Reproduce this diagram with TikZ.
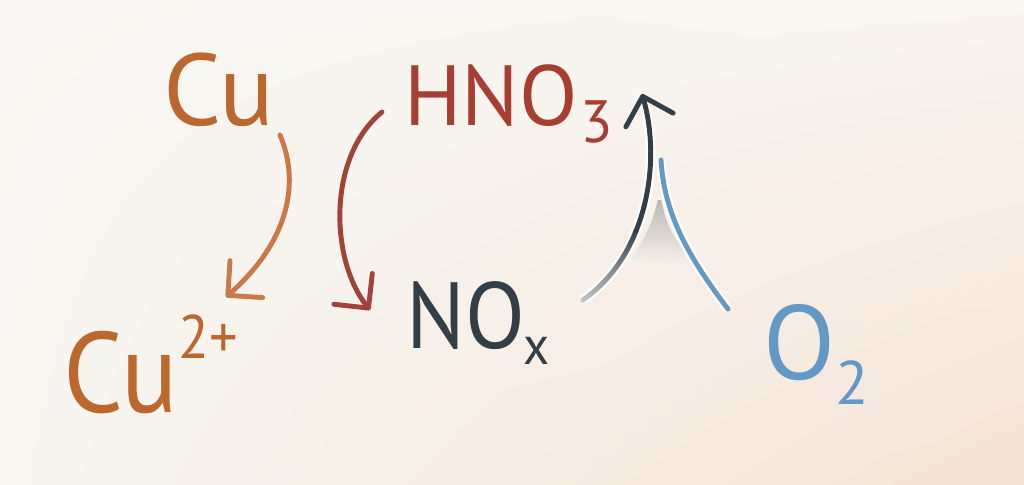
\documentclass[tikz,border=0pt]{standalone}
\usepackage{fontspec}
\setmainfont{PT Sans}
\usetikzlibrary{arrows.meta,fadings,shadings}

\definecolor{cubrown}{HTML}{BC672D}
\definecolor{cuarrow}{HTML}{C97A48}
\definecolor{acidred}{HTML}{A63E31}
\definecolor{redarrow}{HTML}{A2433A}
\definecolor{noxgray}{HTML}{343E47}
\definecolor{oxyblue}{HTML}{6399C6}
\definecolor{paperul}{HTML}{F8F7F3}
\definecolor{paperur}{HTML}{F9F5F0}
\definecolor{paperll}{HTML}{F7F6F1}
\definecolor{paperlr}{HTML}{F5E3D6}

\newcommand\lowtext[4]{\kern#4\raisebox{-#2}{\fontsize{#1}{#1}\selectfont #3}}
\newcommand\hightext[3]{\raisebox{#2}{\fontsize{#1}{#1}\selectfont #3}}

\tikzset{
    chem/.style={inner sep=0pt, anchor=base west},
    flow/.style={line width=2.8pt, line cap=round,
        -{Straight Barb[length=14pt, width=28pt, round]}}
}

\begin{document}
\begin{tikzpicture}[x=0.02cm, y=-0.02cm]
        \useasboundingbox (0,0) rectangle (1024,484);
        % Paper background
        \shade[upper left=paperul, upper right=paperur,
               lower left=paperll, lower right=paperlr]
            (0,0) rectangle (1024,484);

        % Species
        \node[chem, text=cubrown] (cu) at (163,125) {\fontsize{58pt}{60pt}\selectfont Cu};
        \node[chem, text=acidred] (hno) at (404,125)
            {\fontsize{48.6pt}{50pt}\selectfont HNO\lowtext{34pt}{10pt}{3}{1.5pt}};
        \node[chem, text=cubrown] (cuion) at (63,412)
            {\fontsize{65pt}{67pt}\selectfont\addfontfeature{FakeStretch=0.92}Cu\hightext{35pt}{30.6pt}{2+}};
        \node[chem, text=noxgray] (nox) at (406,348)
            {\fontsize{53.5pt}{55pt}\selectfont\addfontfeature{FakeStretch=0.93}NO\lowtext{31pt}{9.6pt}{x}{-1pt}};
        \node[chem, text=oxyblue] (otwo) at (763,379)
            {\fontsize{60pt}{62pt}\selectfont O\lowtext{35pt}{14.7pt}{2}{0pt}};

        % Cu gives Cu2+
        \draw[flow, cuarrow] ([shift={(117,10)}]cu.base west)
            .. controls +(22,52) and +(59,-52) .. ([shift={(163,-115)}]cuion.base west);

        % HNO3 gives NOx
        \draw[flow, redarrow] ([shift={(-22,-13)}]hno.base west)
            .. controls +(-55,45) and +(-40,-50) .. ([shift={(-36,-38)}]nox.base west);

        % O2 joins the way back
        \coordinate (merge) at (661,160);
        \fill[gray, opacity=0.5, path fading=south]
            (658,200) .. controls (650,228) .. (630,262) -- (692,262)
            .. controls (668,228) .. (661,200) -- cycle;
        \draw[white, line width=5.5pt] ([shift={(-35,-70)}]otwo.base west)
            .. controls +(-38,-50) and +(3,55) .. (merge);
        \draw[oxyblue, line width=2.8pt, line cap=round] ([shift={(-35,-70)}]otwo.base west)
            .. controls +(-38,-50) and +(3,55) .. (merge);

        % NOx back to HNO3, fading out at its foot
        \coordinate (noxfoot) at ([shift={(177,-48)}]nox.base west);
        \coordinate (bend) at (636,231);
        \draw[white, line width=5.5pt] (noxfoot) .. controls (607,283) and (625,259) .. (bend)
            .. controls (653,189) and (655,139) .. ([shift={(238,-31)}]hno.base west);
        \draw[gray!45, line width=2.8pt, line cap=round] (noxfoot)
            .. controls (607,283) and (625,259) .. (bend);
        \draw[noxgray, line width=2.8pt, path fading=south] (noxfoot)
            .. controls (607,283) and (625,259) .. (bend);
        \draw[flow, noxgray] (bend)
            .. controls (653,189) and (655,139) .. ([shift={(238,-31)}]hno.base west);
    \end{tikzpicture}
\end{document}
